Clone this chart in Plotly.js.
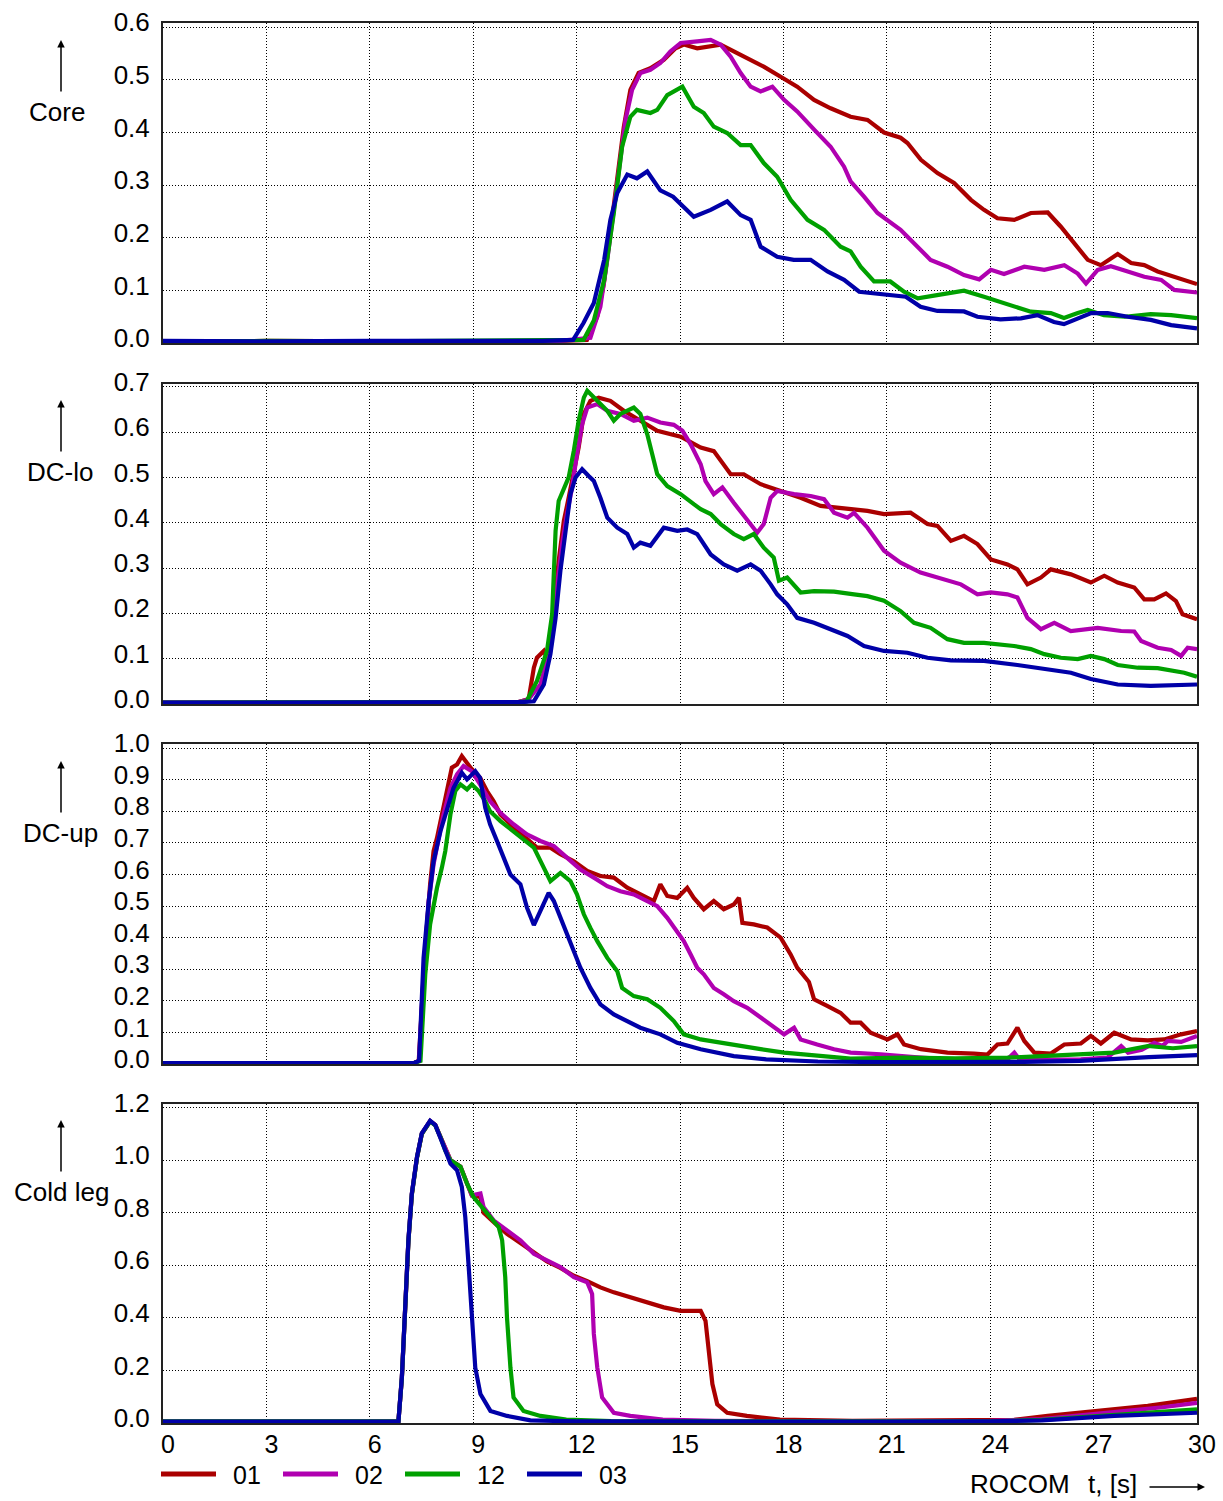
<!DOCTYPE html>
<html>
<head>
<meta charset="utf-8">
<script src="https://cdn.plot.ly/plotly-3.0.1.min.js"></script>
<style>
  html, body { margin: 0; padding: 0; background: #fff; }
  #chart { width: 1223px; height: 1501px; }
</style>
</head>
<body>
<div id="chart"></div>
<script>
// ---------------- series / legend ----------------
const seriesNames = ['01', '02', '12', '03'];
const seriesColors = ['#aa0000', '#b000b0', '#00a000', '#0000a8'];
const panelLabels = ['Core', 'DC-lo', 'DC-up', 'Cold leg'];

// ---------------- x axis ----------------
const timeTicks = [0, 3, 6, 9, 12, 15, 18, 21, 24, 27, 30];
const timeTickText = ['0', '3', '6', '9', '12', '15', '18', '21', '24', '27', '30'];

// ---------------- y ticks per panel ----------------
const coreTicks = [0, 0.1, 0.2, 0.3, 0.4, 0.5, 0.6];
const dcloTicks = [0, 0.1, 0.2, 0.3, 0.4, 0.5, 0.6, 0.7];
const dcupTicks = [0, 0.1, 0.2, 0.3, 0.4, 0.5, 0.6, 0.7, 0.8, 0.9, 1.0];
const coldTicks = [0, 0.2, 0.4, 0.6, 0.8, 1.0, 1.2];

// ================= Core =================
const coreT01 = [0, 3, 6, 9, 11.5, 12.3, 12.6, 12.79, 12.98, 13.18, 13.37, 13.56, 13.8, 14.14, 14.53, 14.87, 15.11, 15.5, 15.79, 16.18, 16.56, 16.95, 17.43, 17.92, 18.4, 18.89, 19.37, 19.95, 20.44, 20.92, 21.4, 21.6, 21.99, 22.47, 22.95, 23.44, 23.82, 24.21, 24.7, 25.18, 25.67, 26.05, 26.44, 26.83, 27.21, 27.7, 28.09, 28.47, 28.86, 29.34, 30];
const coreV01 = [0.003, 0.004, 0.003, 0.003, 0.004, 0.006, 0.05, 0.113, 0.209, 0.316, 0.411, 0.481, 0.513, 0.522, 0.538, 0.56, 0.567, 0.56, 0.563, 0.567, 0.554, 0.541, 0.525, 0.506, 0.487, 0.462, 0.446, 0.43, 0.424, 0.4, 0.39, 0.38, 0.348, 0.323, 0.304, 0.272, 0.253, 0.237, 0.234, 0.247, 0.248, 0.221, 0.19, 0.158, 0.148, 0.169, 0.152, 0.148, 0.136, 0.126, 0.112];

const coreT02 = [0, 3, 6, 9, 11.5, 12.4, 12.69, 12.89, 13.08, 13.27, 13.42, 13.61, 13.85, 14.14, 14.43, 14.72, 15.02, 15.5, 15.89, 16.18, 16.47, 16.76, 17.05, 17.34, 17.68, 18.02, 18.4, 18.9, 19.37, 19.76, 19.95, 20.34, 20.73, 21.4, 21.79, 22.27, 22.76, 23.24, 23.68, 24.02, 24.4, 24.99, 25.57, 26.15, 26.54, 26.78, 27.12, 27.5, 27.99, 28.47, 28.96, 29.34, 30];
const coreV02 = [0.003, 0.003, 0.004, 0.003, 0.004, 0.01, 0.069, 0.158, 0.259, 0.36, 0.424, 0.481, 0.513, 0.519, 0.532, 0.554, 0.57, 0.573, 0.576, 0.567, 0.544, 0.513, 0.487, 0.478, 0.487, 0.462, 0.44, 0.405, 0.373, 0.335, 0.307, 0.278, 0.247, 0.215, 0.19, 0.158, 0.145, 0.129, 0.121, 0.139, 0.131, 0.145, 0.139, 0.148, 0.132, 0.113, 0.139, 0.146, 0.136, 0.126, 0.12, 0.101, 0.096];

const coreT12 = [0, 3, 6, 9, 11.5, 12.2, 12.5, 12.8, 13.08, 13.32, 13.56, 13.75, 14.14, 14.34, 14.63, 15.07, 15.4, 15.69, 15.98, 16.37, 16.76, 17.05, 17.43, 17.82, 18.21, 18.7, 19.18, 19.66, 19.95, 20.24, 20.63, 21.1, 21.5, 21.9, 22.37, 22.86, 23.24, 23.82, 24.3, 24.79, 25.18, 25.76, 26.14, 26.54, 26.83, 27.3, 27.9, 28.66, 29.25, 30];
const coreV12 = [0.003, 0.004, 0.003, 0.004, 0.005, 0.006, 0.043, 0.12, 0.247, 0.373, 0.43, 0.443, 0.437, 0.443, 0.471, 0.487, 0.449, 0.437, 0.411, 0.399, 0.376, 0.376, 0.342, 0.316, 0.272, 0.234, 0.215, 0.183, 0.174, 0.145, 0.117, 0.117, 0.0975, 0.085, 0.09, 0.0945, 0.0995, 0.088, 0.0785, 0.069, 0.0595, 0.057, 0.0475, 0.057, 0.0627, 0.053, 0.05, 0.055, 0.053, 0.0475];

const coreT03 = [0, 3, 6, 9, 11.0, 11.9, 12.2, 12.5, 12.8, 12.98, 13.18, 13.47, 13.75, 14.05, 14.43, 14.8, 15.4, 15.89, 16.37, 16.76, 17.05, 17.34, 17.82, 18.3, 18.79, 19.28, 19.76, 20.2, 21.0, 21.55, 21.98, 22.47, 23.24, 23.63, 24.3, 24.89, 25.37, 25.85, 26.14, 26.54, 26.93, 27.41, 27.99, 28.66, 29.25, 30];
const coreV03 = [0.004, 0.003, 0.004, 0.003, 0.004, 0.006, 0.038, 0.076, 0.158, 0.234, 0.285, 0.32, 0.313, 0.326, 0.29, 0.278, 0.24, 0.253, 0.269, 0.243, 0.234, 0.183, 0.164, 0.158, 0.158, 0.136, 0.12, 0.0975, 0.091, 0.088, 0.069, 0.061, 0.06, 0.05, 0.045, 0.047, 0.053, 0.04, 0.036, 0.047, 0.057, 0.057, 0.05, 0.044, 0.034, 0.028];

// ================= DC-lo =================
const dcloT01 = [0, 3, 6, 9, 10.3, 10.61, 10.76, 10.85, 11.05, 11.14, 11.24, 11.34, 11.48, 11.63, 11.77, 11.92, 12.06, 12.21, 12.4, 12.64, 12.98, 13.37, 13.85, 14.34, 15.02, 15.6, 15.98, 16.47, 16.85, 17.34, 17.92, 18.5, 19.08, 19.76, 20.44, 20.92, 21.69, 22.18, 22.47, 22.86, 23.24, 23.63, 24.02, 24.5, 24.79, 25.08, 25.47, 25.76, 26.34, 26.92, 27.31, 27.7, 28.18, 28.47, 28.76, 29.1, 29.39, 29.58, 30];
const dcloV01 = [0.003, 0.003, 0.004, 0.003, 0.004, 0.011, 0.08, 0.102, 0.117, 0.102, 0.154, 0.205, 0.316, 0.404, 0.455, 0.507, 0.566, 0.64, 0.669, 0.676, 0.669, 0.647, 0.625, 0.603, 0.59, 0.566, 0.558, 0.507, 0.507, 0.485, 0.47, 0.455, 0.437, 0.432, 0.426, 0.419, 0.422, 0.397, 0.393, 0.36, 0.371, 0.353, 0.319, 0.308, 0.297, 0.264, 0.279, 0.297, 0.286, 0.268, 0.283, 0.268, 0.257, 0.231, 0.231, 0.244, 0.227, 0.198, 0.187];

const dcloT02 = [0, 3, 6, 9, 10.3, 10.6, 10.95, 11.14, 11.29, 11.43, 11.58, 11.72, 11.87, 12.01, 12.16, 12.31, 12.6, 12.89, 13.27, 13.66, 14.05, 14.43, 14.82, 15.07, 15.31, 15.6, 15.74, 15.98, 16.23, 16.56, 16.95, 17.24, 17.43, 17.63, 17.82, 18.31, 18.79, 19.18, 19.47, 19.86, 20.05, 20.44, 20.92, 21.4, 21.98, 22.47, 22.86, 23.15, 23.63, 24.02, 24.5, 24.79, 25.08, 25.47, 25.86, 26.34, 27.12, 27.8, 28.18, 28.38, 28.86, 29.25, 29.54, 29.73, 30];
const dcloV02 = [0.003, 0.004, 0.003, 0.003, 0.004, 0.01, 0.043, 0.095, 0.154, 0.257, 0.353, 0.419, 0.478, 0.551, 0.617, 0.654, 0.662, 0.647, 0.64, 0.625, 0.632, 0.621, 0.616, 0.603, 0.573, 0.529, 0.492, 0.463, 0.478, 0.444, 0.404, 0.378, 0.397, 0.455, 0.47, 0.463, 0.459, 0.452, 0.422, 0.411, 0.422, 0.389, 0.338, 0.312, 0.29, 0.279, 0.272, 0.264, 0.242, 0.246, 0.242, 0.235, 0.19, 0.165, 0.179, 0.161, 0.168, 0.161, 0.16, 0.139, 0.124, 0.119, 0.106, 0.124, 0.121];

const dcloT12 = [0, 3, 6, 9, 10.3, 10.55, 10.85, 11.14, 11.29, 11.34, 11.39, 11.48, 11.63, 11.77, 11.92, 12.06, 12.21, 12.31, 12.6, 12.89, 13.08, 13.27, 13.66, 13.85, 14.05, 14.19, 14.34, 14.63, 15.02, 15.4, 15.6, 15.89, 16.18, 16.56, 16.85, 17.14, 17.43, 17.72, 17.87, 18.11, 18.5, 18.89, 19.47, 20.05, 20.44, 20.92, 21.4, 21.79, 22.27, 22.76, 23.24, 23.82, 24.3, 24.69, 25.18, 25.57, 26.05, 26.54, 26.92, 27.31, 27.7, 28.28, 28.86, 29.25, 29.63, 30];
const dcloV12 = [0.003, 0.004, 0.003, 0.004, 0.004, 0.006, 0.051, 0.117, 0.198, 0.301, 0.382, 0.448, 0.478, 0.5, 0.559, 0.625, 0.676, 0.691, 0.669, 0.647, 0.625, 0.64, 0.654, 0.64, 0.595, 0.551, 0.507, 0.481, 0.463, 0.441, 0.43, 0.419, 0.397, 0.375, 0.364, 0.375, 0.345, 0.323, 0.272, 0.279, 0.246, 0.249, 0.248, 0.242, 0.238, 0.228, 0.205, 0.179, 0.168, 0.143, 0.135, 0.135, 0.132, 0.128, 0.121, 0.11, 0.102, 0.099, 0.106, 0.099, 0.086, 0.08, 0.079, 0.073, 0.069, 0.06];

const dcloT03 = [0, 3, 6, 9, 10.4, 10.76, 11.05, 11.24, 11.39, 11.53, 11.68, 11.82, 11.97, 12.16, 12.35, 12.5, 12.69, 12.89, 13.18, 13.47, 13.66, 13.85, 14.14, 14.53, 14.92, 15.21, 15.5, 15.89, 16.27, 16.66, 17.05, 17.34, 17.63, 17.82, 18.11, 18.4, 18.89, 19.37, 19.86, 20.34, 20.92, 21.6, 22.18, 22.86, 23.82, 24.79, 25.76, 26.34, 26.92, 27.7, 28.66, 29.63, 30];
const dcloV03 = [0.003, 0.003, 0.004, 0.003, 0.004, 0.006, 0.043, 0.11, 0.19, 0.294, 0.389, 0.463, 0.5, 0.518, 0.503, 0.492, 0.455, 0.411, 0.389, 0.375, 0.345, 0.356, 0.349, 0.389, 0.382, 0.385, 0.375, 0.33, 0.308, 0.294, 0.308, 0.294, 0.264, 0.242, 0.22, 0.19, 0.179, 0.165, 0.15, 0.128, 0.117, 0.113, 0.102, 0.096, 0.095, 0.086, 0.074, 0.069, 0.055, 0.043, 0.04, 0.043, 0.043];

// ================= DC-up =================
const dcupT01 = [0, 3, 6, 7.3, 7.42, 7.51, 7.61, 7.75, 7.85, 7.95, 8.09, 8.24, 8.38, 8.53, 8.67, 8.82, 8.96, 9.2, 9.4, 9.59, 9.79, 10.08, 10.37, 10.66, 10.85, 11.24, 11.53, 11.92, 12.31, 12.69, 13.08, 13.47, 13.85, 14.24, 14.43, 14.63, 14.92, 15.21, 15.4, 15.69, 15.98, 16.27, 16.56, 16.71, 16.81, 17.14, 17.53, 17.92, 18.21, 18.4, 18.74, 18.89, 19.27, 19.66, 19.95, 20.24, 20.53, 21.02, 21.31, 21.5, 21.99, 22.76, 23.53, 23.92, 24.21, 24.5, 24.79, 24.99, 25.28, 25.76, 26.15, 26.63, 26.92, 27.21, 27.6, 28.09, 28.57, 29.05, 29.54, 30];
const dcupV01 = [0.003, 0.004, 0.003, 0.004, 0.01, 0.18, 0.368, 0.569, 0.674, 0.716, 0.79, 0.864, 0.938, 0.948, 0.975, 0.953, 0.933, 0.906, 0.864, 0.832, 0.79, 0.759, 0.732, 0.706, 0.685, 0.685, 0.664, 0.642, 0.611, 0.595, 0.59, 0.558, 0.537, 0.516, 0.569, 0.532, 0.526, 0.558, 0.526, 0.49, 0.516, 0.49, 0.505, 0.526, 0.447, 0.442, 0.432, 0.4, 0.347, 0.305, 0.26, 0.205, 0.184, 0.162, 0.131, 0.131, 0.099, 0.078, 0.094, 0.062, 0.047, 0.036, 0.033, 0.03, 0.062, 0.065, 0.115, 0.073, 0.036, 0.033, 0.062, 0.065, 0.089, 0.065, 0.099, 0.078, 0.075, 0.078, 0.094, 0.104];

const dcupT02 = [0, 3, 6, 7.3, 7.43, 7.56, 7.71, 7.85, 8.0, 8.14, 8.34, 8.53, 8.72, 8.96, 9.2, 9.49, 9.79, 10.17, 10.56, 10.95, 11.34, 11.72, 12.11, 12.5, 12.89, 13.27, 13.66, 14.05, 14.34, 14.63, 14.92, 15.11, 15.31, 15.5, 15.69, 15.98, 16.27, 16.56, 16.95, 17.34, 17.72, 18.02, 18.31, 18.5, 18.98, 19.47, 19.95, 20.82, 21.8, 22.76, 23.7, 24.5, 24.7, 24.85, 25.6, 26.63, 27.4, 27.8, 28.0, 28.4, 28.76, 29.0, 29.15, 29.54, 30];
const dcupV02 = [0.003, 0.003, 0.004, 0.004, 0.01, 0.285, 0.516, 0.632, 0.716, 0.79, 0.874, 0.917, 0.943, 0.927, 0.885, 0.832, 0.795, 0.759, 0.727, 0.706, 0.69, 0.653, 0.616, 0.59, 0.563, 0.547, 0.537, 0.516, 0.5, 0.463, 0.421, 0.389, 0.347, 0.305, 0.284, 0.241, 0.221, 0.199, 0.178, 0.147, 0.115, 0.094, 0.115, 0.078, 0.062, 0.047, 0.036, 0.031, 0.022, 0.015, 0.013, 0.015, 0.036, 0.015, 0.014, 0.015, 0.02, 0.057, 0.036, 0.045, 0.067, 0.057, 0.073, 0.07, 0.089];

const dcupT12 = [0, 3, 6, 7.3, 7.47, 7.61, 7.75, 7.95, 8.09, 8.19, 8.34, 8.48, 8.63, 8.82, 8.96, 9.16, 9.35, 9.49, 9.79, 10.17, 10.46, 10.76, 11.05, 11.24, 11.53, 11.82, 12.01, 12.21, 12.4, 12.6, 12.89, 13.18, 13.32, 13.66, 14.05, 14.43, 14.82, 15.11, 15.6, 16.18, 16.76, 17.34, 18.02, 18.98, 19.95, 21.5, 23.0, 24.5, 25.6, 26.6, 27.6, 28.57, 29.3, 30];
const dcupV12 = [0.003, 0.004, 0.003, 0.004, 0.01, 0.285, 0.442, 0.558, 0.621, 0.674, 0.79, 0.864, 0.885, 0.869, 0.885, 0.864, 0.832, 0.8, 0.769, 0.737, 0.711, 0.685, 0.621, 0.579, 0.605, 0.579, 0.537, 0.474, 0.431, 0.389, 0.336, 0.294, 0.241, 0.215, 0.205, 0.178, 0.136, 0.094, 0.078, 0.067, 0.057, 0.047, 0.036, 0.025, 0.017, 0.02, 0.018, 0.02, 0.025, 0.03, 0.036, 0.057, 0.05, 0.057];

const dcupT03 = [0, 3, 6, 7.3, 7.43, 7.56, 7.71, 7.85, 8.05, 8.24, 8.43, 8.67, 8.82, 9.06, 9.2, 9.35, 9.49, 9.69, 9.88, 10.08, 10.37, 10.56, 10.76, 10.95, 11.19, 11.34, 11.53, 11.82, 12.11, 12.4, 12.69, 13.08, 13.47, 13.85, 14.43, 14.92, 15.6, 16.56, 17.5, 19.0, 21.0, 23.0, 25.0, 26.6, 27.6, 28.6, 30];
const dcupV03 = [0.003, 0.004, 0.003, 0.004, 0.01, 0.336, 0.516, 0.642, 0.737, 0.811, 0.874, 0.922, 0.901, 0.927, 0.906, 0.811, 0.759, 0.706, 0.653, 0.6, 0.569, 0.495, 0.44, 0.484, 0.542, 0.516, 0.463, 0.389, 0.305, 0.241, 0.189, 0.157, 0.136, 0.115, 0.094, 0.067, 0.047, 0.025, 0.015, 0.008, 0.006, 0.006, 0.007, 0.01, 0.017, 0.022, 0.028];

// ================= Cold leg =================
const coldT01 = [0, 3, 6, 6.83, 6.93, 7.03, 7.12, 7.22, 7.37, 7.51, 7.66, 7.75, 7.9, 8.05, 8.19, 8.34, 8.63, 8.82, 8.96, 9.21, 9.3, 9.59, 9.98, 10.37, 10.76, 11.14, 11.53, 11.92, 12.31, 12.69, 13.08, 13.56, 14.05, 14.53, 15.02, 15.6, 15.74, 15.84, 15.94, 16.08, 16.37, 16.94, 17.9, 20, 23, 24.7, 25.67, 27.6, 28.57, 30];
const coldV01 = [0.005, 0.006, 0.005, 0.006, 0.17, 0.46, 0.69, 0.87, 1.01, 1.1, 1.134, 1.148, 1.134, 1.089, 1.038, 1.0, 0.975, 0.911, 0.866, 0.86, 0.8, 0.765, 0.72, 0.685, 0.65, 0.615, 0.59, 0.56, 0.54, 0.516, 0.497, 0.478, 0.459, 0.44, 0.427, 0.427, 0.389, 0.262, 0.148, 0.071, 0.039, 0.027, 0.013, 0.008, 0.008, 0.012, 0.027, 0.052, 0.065, 0.092];

const coldT02 = [0, 3, 6, 6.83, 6.93, 7.03, 7.12, 7.22, 7.37, 7.51, 7.66, 7.75, 7.9, 8.05, 8.19, 8.34, 8.63, 8.82, 8.96, 9.21, 9.3, 9.59, 9.98, 10.37, 10.76, 11.14, 11.53, 11.92, 12.31, 12.45, 12.5, 12.6, 12.74, 13.08, 13.56, 14.5, 16, 20, 24, 25.5, 27.6, 29, 30];
const coldV02 = [0.005, 0.005, 0.006, 0.005, 0.173, 0.466, 0.695, 0.873, 1.013, 1.102, 1.134, 1.15, 1.134, 1.089, 1.038, 1.0, 0.975, 0.911, 0.866, 0.873, 0.822, 0.771, 0.733, 0.695, 0.644, 0.618, 0.593, 0.555, 0.535, 0.491, 0.339, 0.211, 0.097, 0.039, 0.027, 0.013, 0.008, 0.006, 0.008, 0.015, 0.04, 0.06, 0.077];

const coldT12 = [0, 3, 6, 6.83, 6.93, 7.03, 7.12, 7.22, 7.37, 7.51, 7.66, 7.75, 7.9, 8.05, 8.19, 8.34, 8.63, 8.82, 9.01, 9.21, 9.5, 9.74, 9.84, 9.93, 9.98, 10.08, 10.17, 10.46, 10.95, 11.7, 13, 16, 20, 24, 25.5, 27.6, 29, 30];
const coldV12 = [0.006, 0.007, 0.006, 0.006, 0.17, 0.463, 0.69, 0.87, 1.01, 1.1, 1.132, 1.148, 1.132, 1.088, 1.036, 1.0, 0.975, 0.911, 0.86, 0.828, 0.784, 0.745, 0.695, 0.555, 0.402, 0.211, 0.097, 0.046, 0.027, 0.013, 0.007, 0.006, 0.005, 0.006, 0.012, 0.032, 0.042, 0.052];

const coldT03 = [0, 3, 6, 6.83, 6.93, 7.03, 7.12, 7.22, 7.37, 7.51, 7.66, 7.75, 7.9, 8.05, 8.19, 8.34, 8.53, 8.67, 8.77, 8.87, 8.96, 9.06, 9.21, 9.5, 9.98, 10.66, 12, 15, 18, 21, 24, 25.5, 27.6, 29, 30];
const coldV03 = [0.005, 0.005, 0.005, 0.005, 0.173, 0.466, 0.695, 0.873, 1.013, 1.102, 1.134, 1.15, 1.134, 1.089, 1.038, 0.987, 0.962, 0.898, 0.784, 0.593, 0.402, 0.211, 0.11, 0.046, 0.027, 0.01, 0.006, 0.005, 0.005, 0.005, 0.006, 0.01, 0.027, 0.033, 0.039];

// ---------------- assemble ----------------
const panels = [
  { ticks: coreTicks, range: [0, 0.608], domain: [0.7714, 1.0],
    t: [coreT01, coreT02, coreT12, coreT03], v: [coreV01, coreV02, coreV12, coreV03] },
  { ticks: dcloTicks, range: [0, 0.706], domain: [0.5136, 0.7421],
    t: [dcloT01, dcloT02, dcloT12, dcloT03], v: [dcloV01, dcloV02, dcloV12, dcloV03] },
  { ticks: dcupTicks, range: [0, 1.013], domain: [0.2564, 0.485],
    t: [dcupT01, dcupT02, dcupT12, dcupT03], v: [dcupV01, dcupV02, dcupV12, dcupV03] },
  { ticks: coldTicks, range: [0, 1.214], domain: [0, 0.2279],
    t: [coldT01, coldT02, coldT12, coldT03], v: [coldV01, coldV02, coldV12, coldV03] }
];

const FONT = 'Liberation Sans, Arial, Helvetica, sans-serif';
const traces = [];
const layout = {
  width: 1223, height: 1501,
  margin: { l: 163, r: 26, t: 23, b: 78 },
  paper_bgcolor: '#ffffff', plot_bgcolor: '#ffffff',
  showlegend: false,
  font: { family: FONT, size: 26, color: '#000' },
  annotations: [], shapes: []
};

// plot area in pixels
const PL = 163, PW = 1223 - 163 - 26, PT = 23, PH = 1501 - 23 - 78;
const px2x = p => (p - PL) / PW;
const py2y = p => (PT + PH - p) / PH;

panels.forEach((p, i) => {
  const n = i + 1;
  const xa = 'x' + (n === 1 ? '' : n), ya = 'y' + (n === 1 ? '' : n);
  for (let s = 0; s < 4; s++) {
    traces.push({
      type: 'scatter', mode: 'lines',
      x: p.t[s], y: p.v[s], xaxis: xa, yaxis: ya,
      name: seriesNames[s],
      line: { color: seriesColors[s], width: 4.2 },
      hoverinfo: 'skip'
    });
  }
  const isBottom = (i === panels.length - 1);
  layout['xaxis' + (n === 1 ? '' : n)] = {
    domain: [0, 1], range: [0, 30], anchor: ya,
    tickvals: timeTicks, ticktext: timeTickText,
    showticklabels: isBottom, ticks: '',
    ticklabelstandoff: -2, ticklabelshift: 5,
    showgrid: true, gridcolor: '#000', gridwidth: 1, griddash: '1px,2px',
    showline: true, mirror: true, linecolor: '#222', linewidth: 2,
    zeroline: false, fixedrange: true,
    tickfont: { family: FONT, size: 25, color: '#000' }
  };
  layout['yaxis' + (n === 1 ? '' : n)] = {
    domain: p.domain, range: p.range, anchor: xa,
    tickvals: p.ticks, ticktext: p.ticks.map(v => v.toFixed(1)),
    ticks: '', ticklabelstandoff: 6, ticklabelshift: -5,
    showgrid: true, gridcolor: '#000', gridwidth: 1, griddash: '1px,2px',
    showline: true, mirror: true, linecolor: '#222', linewidth: 2,
    zeroline: false, fixedrange: true,
    tickfont: { family: FONT, size: 26, color: '#000' }
  };
});

// panel labels with upward arrows
const labelCentersPx = [112, 472, 833, 1192];
const labelXPx = [57, 60, 60, 61];
panelLabels.forEach((txt, i) => {
  const cy = labelCentersPx[i];
  layout.annotations.push({
    xref: 'paper', yref: 'paper', x: px2x(labelXPx[i]), y: py2y(cy),
    text: txt, showarrow: false, xanchor: 'center', yanchor: 'middle',
    font: { family: FONT, size: 26, color: '#000' }
  });
  layout.annotations.push({
    xref: 'paper', yref: 'paper', x: px2x(61), y: py2y(cy - 72),
    text: '', showarrow: true, ax: 0, ay: 53,
    arrowhead: 2, arrowsize: 1, arrowwidth: 1.5, arrowcolor: '#000'
  });
});

// legend (bottom)
const legendY = py2y(1474);
seriesNames.forEach((nm, s) => {
  const x0 = 161 + s * 122;
  layout.shapes.push({
    type: 'line', xref: 'paper', yref: 'paper',
    x0: px2x(x0), x1: px2x(x0 + 55), y0: legendY, y1: legendY,
    line: { color: seriesColors[s], width: 5 }
  });
  layout.annotations.push({
    xref: 'paper', yref: 'paper', x: px2x(x0 + 70), y: py2y(1475),
    text: nm, showarrow: false, xanchor: 'left', yanchor: 'middle',
    font: { family: FONT, size: 25, color: '#000' }
  });
});

// bottom-right axis caption
layout.annotations.push({
  xref: 'paper', yref: 'paper', x: px2x(968), y: py2y(1484),
  text: 'ROCOM', showarrow: false, xanchor: 'left', yanchor: 'middle',
  font: { family: FONT, size: 26, color: '#000' }
});
layout.annotations.push({
  xref: 'paper', yref: 'paper', x: px2x(1086), y: py2y(1484),
  text: 't, [s]', showarrow: false, xanchor: 'left', yanchor: 'middle',
  font: { family: FONT, size: 26, color: '#000' }
});
layout.annotations.push({
  xref: 'paper', yref: 'paper', x: px2x(1205), y: py2y(1487),
  text: '', showarrow: true, ax: -57, ay: 0,
  arrowhead: 2, arrowsize: 1, arrowwidth: 1.5, arrowcolor: '#000'
});

Plotly.newPlot('chart', traces, layout, { staticPlot: true, displayModeBar: false });
</script>
</body>
</html>
